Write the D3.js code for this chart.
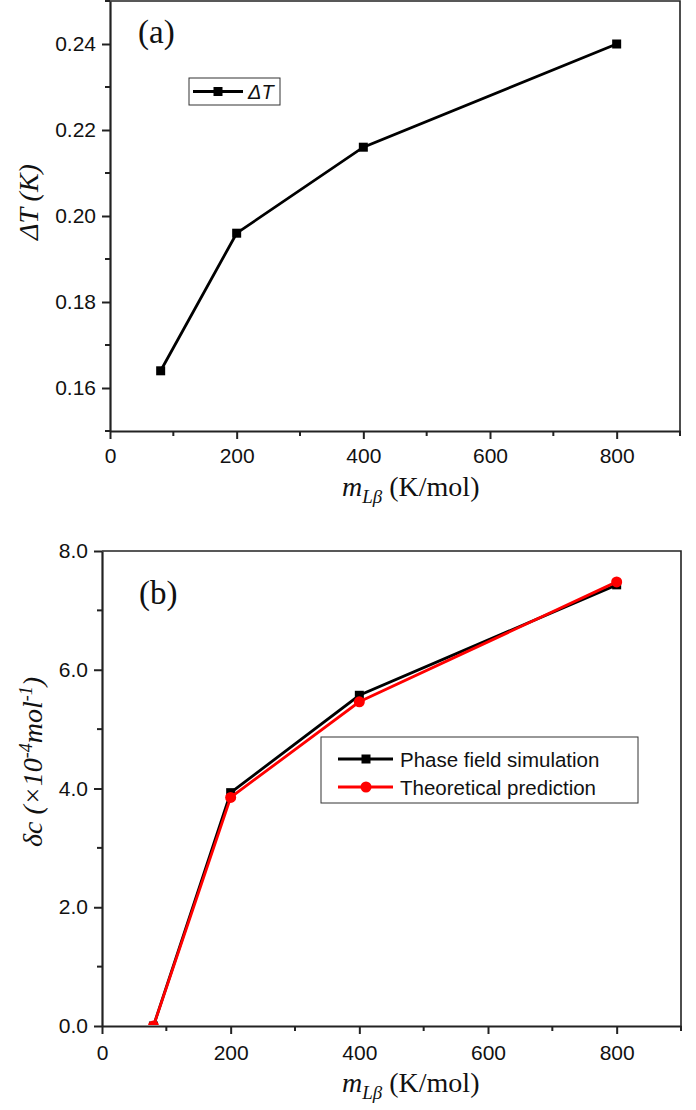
<!DOCTYPE html>
<html>
<head>
<meta charset="utf-8">
<script src="https://cdn.jsdelivr.net/npm/d3@7"></script>
<style>
  body { margin: 0; background: #fff; }
  svg { display: block; }
  .tick text { font-family: "Liberation Sans", Arial, sans-serif; font-size: 21px; fill: #111; }
  .serif { font-family: "Liberation Serif", "Times New Roman", serif; fill: #111; }
</style>
</head>
<body>
<div id="chart"></div>
<script>
// data
const mLb = [80, 200, 400, 800];
const deltaT = [0.164, 0.196, 0.216, 0.240];
const phaseField = [0.0, 3.93, 5.57, 7.43];
const theory = [0.0, 3.85, 5.46, 7.48];

const xTicks = [0, 200, 400, 600, 800];
const xMinor = [100, 300, 500, 700, 900];
const yTicksA = [0.16, 0.18, 0.20, 0.22, 0.24];
const yMinorA = [0.15, 0.17, 0.19, 0.21, 0.23, 0.25];
const yTicksB = [0, 2, 4, 6, 8];
const yMinorB = [1, 3, 5, 7];

const W = 696, H = 1110;
const svg = d3.select("#chart").append("svg")
    .attr("width", W).attr("height", H);

function drawFrame(g, x, y, xT, xM, yT, yM, yFmt, pad) {
    const [x0, x1] = x.range();
    const [y0, y1] = y.range(); // y0 bottom, y1 top

    // top and right frame lines
    g.append("path")
        .attr("d", `M${x0},${y1}H${x1}V${y0}`)
        .attr("fill", "none").attr("stroke", "#222").attr("stroke-width", 1.6);

    const xAxis = g.append("g").attr("transform", `translate(0,${y0})`)
        .call(d3.axisBottom(x).tickValues(xT).tickSize(8).tickSizeOuter(0).tickPadding(pad));
    xAxis.append("g").selectAll("line").data(xM).join("line")
        .attr("x1", d => x(d)).attr("x2", d => x(d)).attr("y1", 0).attr("y2", 5)
        .attr("stroke", "#222").attr("stroke-width", 2);

    const yAxis = g.append("g").attr("transform", `translate(${x0},0)`)
        .call(d3.axisLeft(y).tickValues(yT).tickSize(8).tickSizeOuter(0).tickPadding(6).tickFormat(yFmt));
    yAxis.append("g").selectAll("line").data(yM).join("line")
        .attr("y1", d => y(d)).attr("y2", d => y(d)).attr("x1", 0).attr("x2", -5)
        .attr("stroke", "#222").attr("stroke-width", 2);

    [xAxis, yAxis].forEach(a => {
        a.select(".domain").attr("stroke", "#222").attr("stroke-width", 2.2);
        a.selectAll(".tick line").attr("stroke", "#222").attr("stroke-width", 2);
    });
}

// ---------- panel (a) ----------
const xA = d3.scaleLinear().domain([0, 900]).range([110, 680]);
const yA = d3.scaleLinear().domain([0.15, 0.25]).range([431, 1]);
const gA = svg.append("g");
drawFrame(gA, xA, yA, xTicks, xMinor, yTicksA, yMinorA, d3.format(".2f"), 9);

const ptsA = mLb.map((m, i) => [m, deltaT[i]]);
gA.append("path").datum(ptsA)
    .attr("d", d3.line().x(d => xA(d[0])).y(d => yA(d[1])))
    .attr("fill", "none").attr("stroke", "#000").attr("stroke-width", 2.8);
gA.selectAll("rect.pt").data(ptsA).join("rect")
    .attr("class", "pt")
    .attr("x", d => xA(d[0]) - 4.5).attr("y", d => yA(d[1]) - 4.5)
    .attr("width", 9).attr("height", 9).attr("fill", "#000");

gA.append("text").attr("class", "serif")
    .attr("x", 138).attr("y", 43).style("font-size", "33px").text("(a)");

// legend (a)
gA.append("rect").attr("x", 189).attr("y", 78).attr("width", 91).attr("height", 27)
    .attr("fill", "#fff").attr("stroke", "#333").attr("stroke-width", 1);
gA.append("line").attr("x1", 193).attr("x2", 243).attr("y1", 91.5).attr("y2", 91.5)
    .attr("stroke", "#000").attr("stroke-width", 2.8);
gA.append("rect").attr("x", 213.5).attr("y", 87).attr("width", 9).attr("height", 9).attr("fill", "#000");
gA.append("text").attr("x", 248).attr("y", 99)
    .style("font-family", "'Liberation Sans', Arial, sans-serif").style("font-size", "20px")
    .style("font-style", "italic").attr("fill", "#111").text("ΔT");

// axis titles (a)
gA.append("text").attr("class", "serif")
    .attr("transform", "translate(38,202) rotate(-90)")
    .attr("text-anchor", "middle").style("font-size", "28px").style("font-style", "italic")
    .text("ΔT (K)");

function xTitle(g, yBase) {
    const t = g.append("text").attr("class", "serif")
        .attr("x", 342).attr("y", yBase).style("font-size", "28px");
    t.append("tspan").style("font-style", "italic").text("m");
    t.append("tspan").attr("dy", 7).style("font-size", "19px").style("font-style", "italic").text("Lβ");
    t.append("tspan").attr("dy", -7).text(" (K/mol)");
}
xTitle(gA, 496);

// ---------- panel (b) ----------
const xB = d3.scaleLinear().domain([0, 900]).range([102, 681]);
const yB = d3.scaleLinear().domain([0, 8]).range([1026, 551]);
const gB = svg.append("g");
drawFrame(gB, xB, yB, xTicks, xMinor, yTicksB, yMinorB, d3.format(".1f"), 11);

svg.append("defs").append("clipPath").attr("id", "clipB")
    .append("rect").attr("x", 102).attr("y", 551).attr("width", 579).attr("height", 474);

const dataB = gB.append("g").attr("clip-path", "url(#clipB)");
const lineB = d3.line().x(d => xB(d[0])).y(d => yB(d[1]));
const ptsPF = mLb.map((m, i) => [m, phaseField[i]]);
const ptsTh = mLb.map((m, i) => [m, theory[i]]);

dataB.append("path").datum(ptsPF).attr("d", lineB)
    .attr("fill", "none").attr("stroke", "#000").attr("stroke-width", 2.8);
dataB.selectAll("rect.pf").data(ptsPF).join("rect").attr("class", "pf")
    .attr("x", d => xB(d[0]) - 4.5).attr("y", d => yB(d[1]) - 4.5)
    .attr("width", 9).attr("height", 9).attr("fill", "#000");
dataB.append("path").datum(ptsTh).attr("d", lineB)
    .attr("fill", "none").attr("stroke", "#ff0000").attr("stroke-width", 2.8);
dataB.selectAll("circle.th").data(ptsTh).join("circle").attr("class", "th")
    .attr("cx", d => xB(d[0])).attr("cy", d => yB(d[1])).attr("r", 5.5).attr("fill", "#ff0000");

gB.append("text").attr("class", "serif")
    .attr("x", 139).attr("y", 604).style("font-size", "33px").text("(b)");

// legend (b)
const legB = gB.append("g");
legB.append("rect").attr("x", 321).attr("y", 737).attr("width", 317).attr("height", 66)
    .attr("fill", "#fff").attr("stroke", "#333").attr("stroke-width", 1);
const legItems = [
    { label: "Phase field simulation", color: "#000", shape: "square" },
    { label: "Theoretical prediction", color: "#ff0000", shape: "circle" }
];
legItems.forEach((d, i) => {
    const cy = 759 + i * 28;
    legB.append("line").attr("x1", 338).attr("x2", 393).attr("y1", cy).attr("y2", cy)
        .attr("stroke", d.color).attr("stroke-width", 2.8);
    if (d.shape === "square") {
        legB.append("rect").attr("x", 361.5).attr("y", cy - 4.5).attr("width", 9).attr("height", 9).attr("fill", d.color);
    } else {
        legB.append("circle").attr("cx", 366).attr("cy", cy).attr("r", 5.5).attr("fill", d.color);
    }
    legB.append("text").attr("x", 400).attr("y", cy + 7.5)
        .style("font-family", "'Liberation Sans', Arial, sans-serif").style("font-size", "20.5px")
        .attr("fill", "#111").text(d.label);
});

// axis titles (b)
const yt = gB.append("text").attr("class", "serif")
    .attr("transform", "translate(42,762) rotate(-90)")
    .attr("text-anchor", "middle").style("font-size", "28px").style("font-style", "italic");
yt.append("tspan").text("δc (×10");
yt.append("tspan").attr("dy", -10).style("font-size", "18px").text("-4");
yt.append("tspan").attr("dy", 10).text("mol");
yt.append("tspan").attr("dy", -10).style("font-size", "18px").text("-1");
yt.append("tspan").attr("dy", 10).text(")");

xTitle(gB, 1092);
</script>
</body>
</html>
